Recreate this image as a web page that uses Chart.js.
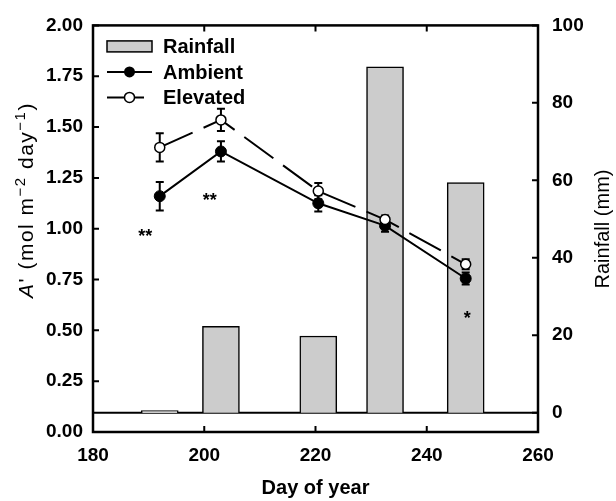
<!DOCTYPE html>
<html>
<head>
<meta charset="utf-8">
<script src="https://cdn.jsdelivr.net/npm/chart.js@4/dist/chart.umd.min.js"></script>
<style>
html,body{margin:0;padding:0;background:#fff;}
#wrap{width:616px;height:501px;}
canvas{display:block;}
</style>
</head>
<body>
<div id="wrap"><canvas id="c" width="616" height="501"></canvas></div>
<script>
// ---- data ----
const days = [192, 203, 220.5, 232.5, 247];
const rainfall = [0.5, 22.3, 19.8, 89.3, 59.4];
const ambient = [1.16, 1.38, 1.125, 1.015, 0.755];
const ambientErr = [0.07, 0.05, 0.04, 0.03, 0.03];
const elevated = [1.40, 1.535, 1.185, 1.045, 0.825];
const elevatedErr = [0.07, 0.055, 0.04, 0.02, 0.025];
const xTicks = [180, 200, 220, 240, 260];
const yTicks = [0, 0.25, 0.5, 0.75, 1.0, 1.25, 1.5, 1.75, 2.0];
const rainTicks = [0, 20, 40, 60, 80, 100];
const sigLabels = ['**', '**', '*'];
const sigDays = [189.4, 201.0, 247.3];
const sigValues = [0.985, 1.16, 0.58];
const seriesNames = ['Rainfall', 'Ambient', 'Elevated'];

const FONT = '"Liberation Sans", Arial, Helvetica, sans-serif';
Chart.defaults.color = '#000';
Chart.defaults.font.family = FONT;

const decor = {
  id: 'decor',
  beforeDatasetsDraw(chart) {
    const {ctx, chartArea: a, scales: {y2}} = chart;
    const y0 = y2.getPixelForValue(0);
    ctx.save();
    ctx.strokeStyle = '#000'; ctx.lineWidth = 2;
    ctx.beginPath(); ctx.moveTo(a.left, y0); ctx.lineTo(a.right, y0); ctx.stroke();
    ctx.restore();
  },
  afterDatasetDraw(chart, args) {
    if (args.index !== 0) return;
    const {ctx, scales: {x, y}} = chart;
    ctx.save();
    ctx.strokeStyle = '#000'; ctx.lineWidth = 2;
    [[ambient, ambientErr], [elevated, elevatedErr]].forEach(([v, e]) => {
      days.forEach((d, i) => {
        const px = x.getPixelForValue(d);
        const t = y.getPixelForValue(v[i] + e[i]);
        const b = y.getPixelForValue(v[i] - e[i]);
        ctx.beginPath();
        ctx.moveTo(px, t); ctx.lineTo(px, b);
        ctx.moveTo(px - 4, t); ctx.lineTo(px + 4, t);
        ctx.moveTo(px - 4, b); ctx.lineTo(px + 4, b);
        ctx.stroke();
      });
    });
    ctx.restore();
  },
  afterDraw(chart) {
    const {ctx, chartArea: a, scales: {x, y, y2}} = chart;
    ctx.save();
    ctx.strokeStyle = '#000'; ctx.fillStyle = '#000';
    // frame
    ctx.lineWidth = 2.5;
    ctx.strokeRect(a.left, a.top, a.right - a.left, a.bottom - a.top);
    // inward ticks
    ctx.lineWidth = 2;
    ctx.beginPath();
    xTicks.forEach(v => {
      const px = x.getPixelForValue(v);
      ctx.moveTo(px, a.bottom); ctx.lineTo(px, a.bottom - 6);
      ctx.moveTo(px, a.top); ctx.lineTo(px, a.top + 6);
    });
    yTicks.forEach(v => {
      const py = y.getPixelForValue(v);
      ctx.moveTo(a.left, py); ctx.lineTo(a.left + 6, py);
    });
    rainTicks.forEach(v => {
      const py = y2.getPixelForValue(v);
      ctx.moveTo(a.right, py); ctx.lineTo(a.right - 6, py);
    });
    ctx.stroke();

    // significance asterisks
    ctx.font = 'bold 18px ' + FONT;
    ctx.textAlign = 'center'; ctx.textBaseline = 'alphabetic';
    sigLabels.forEach((s, i) => {
      ctx.fillText(s, x.getPixelForValue(sigDays[i]), y.getPixelForValue(sigValues[i]) + 10);
    });

    // legend
    const lx = a.left + 14, tx = a.left + 70;
    const rows = [a.top + 21, a.top + 46.5, a.top + 72];
    ctx.lineWidth = 1.5;
    ctx.fillStyle = '#cccccc';
    ctx.fillRect(lx, rows[0] - 5.5, 45, 11);
    ctx.strokeRect(lx, rows[0] - 5.5, 45, 11);
    ctx.lineWidth = 2;
    ctx.beginPath(); ctx.moveTo(lx, rows[1]); ctx.lineTo(lx + 45, rows[1]); ctx.stroke();
    ctx.fillStyle = '#000';
    ctx.beginPath(); ctx.arc(lx + 22.5, rows[1], 5.5, 0, Math.PI * 2); ctx.fill();
    ctx.beginPath(); ctx.moveTo(lx, rows[2]); ctx.lineTo(lx + 18, rows[2]);
    ctx.moveTo(lx + 27, rows[2]); ctx.lineTo(lx + 37, rows[2]); ctx.stroke();
    ctx.fillStyle = '#fff'; ctx.lineWidth = 1.5;
    ctx.beginPath(); ctx.arc(lx + 22.5, rows[2], 5, 0, Math.PI * 2); ctx.fill(); ctx.stroke();
    ctx.fillStyle = '#000';
    ctx.font = 'bold 20px ' + FONT;
    ctx.textAlign = 'left';
    seriesNames.forEach((n, i) => ctx.fillText(n, tx, rows[i] + 7));

    // left axis title with italic A'
    ctx.save();
    ctx.translate(26, 200);
    ctx.rotate(-Math.PI / 2);
    const big = 21, small = 15;
    try { ctx.letterSpacing = '1.5px'; } catch (e) {}
    const parts = [
      {t: 'A', f: 'italic ' + big + 'px ' + FONT, dy: 0},
      {t: "' (mol m", f: big + 'px ' + FONT, dy: 0},
      {t: '\u22122', f: small + 'px ' + FONT, dy: -8},
      {t: ' day', f: big + 'px ' + FONT, dy: 0},
      {t: '\u22121', f: small + 'px ' + FONT, dy: -8},
      {t: ')', f: big + 'px ' + FONT, dy: 0}
    ];
    let total = 0;
    parts.forEach(p => { ctx.font = p.f; p.w = ctx.measureText(p.t).width; total += p.w; });
    let cx = -total / 2;
    ctx.textAlign = 'left';
    parts.forEach(p => { ctx.font = p.f; ctx.fillText(p.t, cx, 7 + p.dy); cx += p.w; });
    ctx.restore();

    // right axis title
    ctx.save();
    ctx.translate(602, 229);
    ctx.rotate(-Math.PI / 2);
    ctx.font = '20px ' + FONT;
    ctx.textAlign = 'center';
    ctx.fillText('Rainfall (mm)', 0, 7);
    ctx.restore();

    ctx.restore();
  }
};

new Chart(document.getElementById('c'), {
  type: 'line',
  data: {
    datasets: [
      {
        type: 'bar', label: seriesNames[0],
        data: days.map((d, i) => ({x: d, y: rainfall[i]})),
        xAxisID: 'x', yAxisID: 'y2',
        backgroundColor: '#cccccc', borderColor: '#000', borderWidth: 1.5,
        barThickness: 37, order: 3
      },
      {
        type: 'line', label: seriesNames[1],
        data: days.map((d, i) => ({x: d, y: ambient[i]})),
        xAxisID: 'x', yAxisID: 'y',
        borderColor: '#000', borderWidth: 2, tension: 0, fill: false,
        pointRadius: 5.5, pointBackgroundColor: '#000', pointBorderColor: '#000', pointBorderWidth: 1,
        order: 2
      },
      {
        type: 'line', label: seriesNames[2],
        data: days.map((d, i) => ({x: d, y: elevated[i]})),
        xAxisID: 'x', yAxisID: 'y',
        borderColor: '#000', borderWidth: 2, borderDash: [36, 12], tension: 0, fill: false,
        pointRadius: 5, pointBackgroundColor: '#fff', pointBorderColor: '#000', pointBorderWidth: 1.5,
        order: 1
      }
    ]
  },
  options: {
    responsive: false,
    animation: false,
    devicePixelRatio: 1,
    layout: {padding: {top: 18, left: 0, right: 0, bottom: 0}},
    plugins: {legend: {display: false}, tooltip: {enabled: false}},
    scales: {
      x: {
        type: 'linear', position: 'bottom', min: 180, max: 260, offset: false,
        afterBuildTicks: s => { s.ticks = xTicks.map(v => ({value: v})); },
        afterFit: s => { s.height = 69; },
        grid: {display: false, drawTicks: false},
        border: {display: false},
        ticks: {font: {size: 19, weight: 'bold'}, padding: 12, maxRotation: 0, autoSkip: false},
        title: {display: true, text: 'Day of year', font: {size: 20, weight: 'bold'}, padding: {top: 0, bottom: 1}}
      },
      y: {
        type: 'linear', position: 'left', min: 0, max: 2,
        afterBuildTicks: s => { s.ticks = yTicks.map(v => ({value: v})); },
        afterFit: s => { s.width = 93; },
        grid: {display: false, drawTicks: false},
        border: {display: false},
        ticks: {font: {size: 19, weight: 'bold'}, padding: 10, callback: v => Number(v).toFixed(2)}
      },
      y2: {
        type: 'linear', position: 'right', min: -5, max: 100,
        afterBuildTicks: s => { s.ticks = rainTicks.map(v => ({value: v})); },
        afterFit: s => { s.width = 78; },
        grid: {display: false, drawTicks: false},
        border: {display: false},
        ticks: {font: {size: 19, weight: 'bold'}, padding: 14, callback: v => String(v)}
      }
    }
  },
  plugins: [decor]
});
</script>
</body>
</html>
